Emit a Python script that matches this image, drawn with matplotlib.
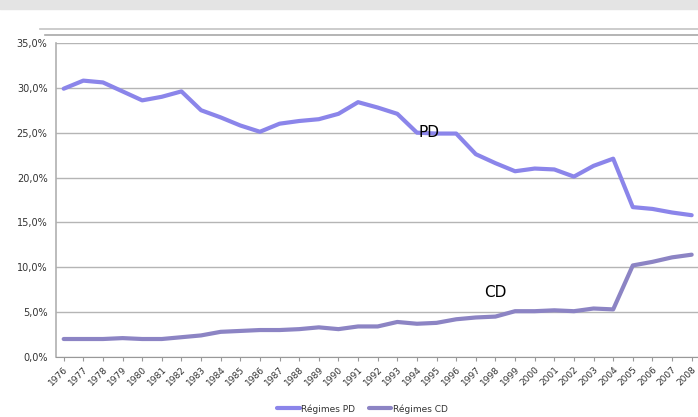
import numpy as np
import matplotlib.pyplot as plt
from matplotlib.ticker import FuncFormatter
from matplotlib.lines import Line2D
from matplotlib.patches import Rectangle

# Data (share in %)
years = list(range(1976, 2009))
pd_values = [29.9, 30.8, 30.6, 29.6, 28.6, 29.0, 29.6, 27.5, 26.7, 25.8,
             25.1, 26.0, 26.3, 26.5, 27.1, 28.4, 27.8, 27.1, 25.0, 24.9,
             24.9, 22.6, 21.6, 20.7, 21.0, 20.9, 20.1, 21.3, 22.1, 16.7,
             16.5, 16.1, 15.8]
cd_values = [2.0, 2.0, 2.0, 2.1, 2.0, 2.0, 2.2, 2.4, 2.8, 2.9,
             3.0, 3.0, 3.1, 3.3, 3.1, 3.4, 3.4, 3.9, 3.7, 3.8,
             4.2, 4.4, 4.5, 5.1, 5.1, 5.2, 5.1, 5.4, 5.3, 10.2,
             10.6, 11.1, 11.4]
series_names = ['Régimes PD', 'Régimes CD']
yticks = [0, 5, 10, 15, 20, 25, 30, 35]

pd_color = '#8b85ea'
cd_color = '#8c84c4'

fig = plt.figure(figsize=(6.98, 4.17), dpi=100)
ax = fig.add_axes([0.080, 0.144, 0.925, 0.753])

x = np.arange(len(years))
ax.plot(x, pd_values, color=pd_color, lw=3.0, label=series_names[0], solid_capstyle='round')
ax.plot(x, cd_values, color=cd_color, lw=3.0, label=series_names[1], solid_capstyle='round')

ax.set_xlim(-0.4, 32.5)
ax.set_ylim(0, 35)
ax.set_yticks(yticks)
ax.yaxis.set_major_formatter(FuncFormatter(lambda v, p: f'{v:.1f}%'.replace('.', ',')))
ax.set_xticks(x)
ax.set_xticklabels([str(y) for y in years], rotation=45, ha='right',
                   rotation_mode='anchor', fontsize=6.5, color='#333333')
ax.tick_params(axis='y', labelsize=7, colors='#333333', length=0, pad=6)
ax.tick_params(axis='x', length=3, color='#999999', pad=3)

ax.grid(axis='y', color='#b5b5b5', lw=1.0)
ax.set_axisbelow(True)
for s in ['top', 'right']:
    ax.spines[s].set_visible(False)
ax.spines['left'].set_color('#b0b0b0')
ax.spines['bottom'].set_color('#999999')
ax.spines['left'].set_linewidth(1.2)

# In-chart labels
ax.text(18.6, 25.0, 'PD', fontsize=11, color='black', va='center', ha='center')
ax.text(22.0, 7.2, 'CD', fontsize=11, color='black', va='center', ha='center')

# Legend at the bottom
ax.legend(loc='center', bbox_to_anchor=(0.475, -0.165), ncol=2, frameon=False,
          fontsize=6.5, handlelength=2.5, handletextpad=0.2, columnspacing=1.5,
          labelcolor='#333333', borderpad=0.1)

# Slide decorations above the chart
fig.patches.append(Rectangle((0, 0.978), 1, 0.022, transform=fig.transFigure,
                             color='#e4e4e4', zorder=0))
fig.add_artist(Line2D([0.057, 1.0], [1 - 29 / 417, 1 - 29 / 417], color='#c4c4c4', lw=1.2))
fig.add_artist(Line2D([0.064, 1.0], [1 - 35 / 417, 1 - 35 / 417], color='#a8a8a8', lw=1.2))

fig.savefig('out.png', dpi=100)
